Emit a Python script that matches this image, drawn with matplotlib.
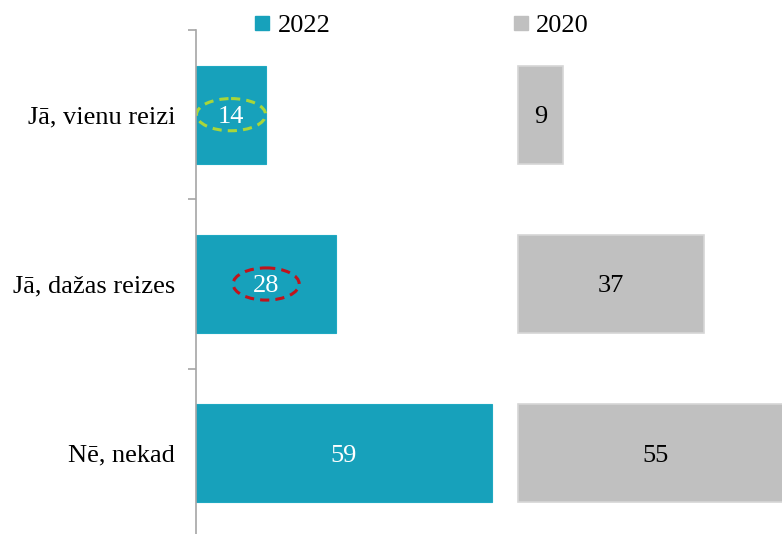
import matplotlib
matplotlib.use("Agg")
import matplotlib.pyplot as plt
from matplotlib.patches import Ellipse
from matplotlib.lines import Line2D

categories = ["Jā, vienu reizi", "Jā, dažas reizes", "Nē, nekad"]
values_2022 = [14, 28, 59]
values_2020 = [9, 37, 55]
series_names = ["2022", "2020"]

plt.rcParams['font.family'] = ['Liberation Serif', 'DejaVu Serif']

TEAL = "#17A1BB"
GREY = "#C0C0C0"
OFFSET = 64.3  # horizontal start of the 2020 panel, in value units
FS = 19

fig = plt.figure(figsize=(7.82, 5.34), dpi=100)
ax = fig.add_axes([196/782, -4/534, 1 - 196/782, 508/534])

ypos = list(range(len(categories)))
bh = 0.58
ax.barh(ypos, values_2022, height=bh, color=TEAL, edgecolor="#1FA9C2", linewidth=0.8)
ax.barh(ypos, values_2020, left=OFFSET, height=bh, color=GREY, edgecolor="#D6D6D6", linewidth=1.2)

for y, v in zip(ypos, values_2022):
    ax.text(v / 2, y, str(v), ha="center", va="center_baseline", color="white", fontsize=FS)
for y, v in zip(ypos, values_2020):
    ax.text(OFFSET + v / 2, y, str(v), ha="center", va="center_baseline", color="black", fontsize=FS)

# dashed highlight ellipses
ax.add_patch(Ellipse((values_2022[0] / 2, 0), 13.8, 0.19, fill=False,
                     edgecolor="#A8D63A", linestyle=(0, (3, 2)), linewidth=2.2))
ax.add_patch(Ellipse((values_2022[1] / 2, 1), 13.2, 0.19, fill=False,
                     edgecolor="#C0141C", linestyle=(0, (3, 2)), linewidth=2.2))

ax.set_xlim(0, 586 / 5.01)
ax.set_ylim(2.5, -0.5)
ax.set_yticks(ypos)
ax.set_yticklabels(categories, fontsize=FS)
ax.set_yticks([-0.5, 0.5, 1.5, 2.5], minor=True)
ax.tick_params(axis="y", which="major", length=0, pad=15)
ax.tick_params(axis="y", which="minor", length=6, color="#A6A6A6", width=1.2)
ax.set_xticks([])
for s in ["top", "right", "bottom"]:
    ax.spines[s].set_visible(False)
ax.spines["left"].set_color("#A6A6A6")
ax.spines["left"].set_linewidth(1.2)

handles = [Line2D([], [], marker="s", linestyle="none", markersize=10, color=TEAL),
           Line2D([], [], marker="s", linestyle="none", markersize=10, color=GREY)]
fig.legend(handles, series_names, loc="center", bbox_to_anchor=(0.539, 0.952),
           ncol=2, frameon=False, fontsize=FS, handlelength=0.6, handletextpad=0.3,
           columnspacing=6.9)

fig.savefig("out.png", dpi=100)
